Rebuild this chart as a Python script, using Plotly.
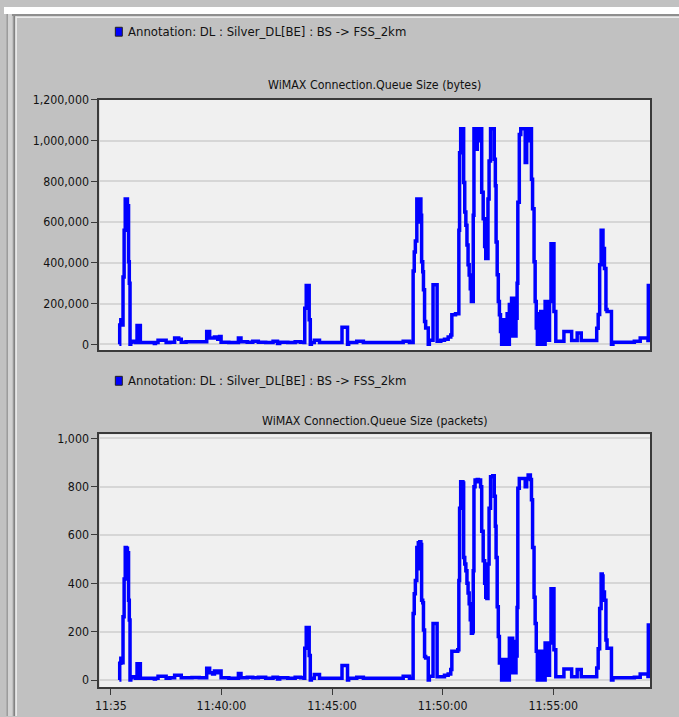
import plotly.graph_objects as go

W, H = 679, 717

# Sample times, seconds after 11:35:00
t_sec = [
    23, 24, 27, 30, 33, 36, 39, 42, 45, 48, 50, 52, 54, 57, 63, 67, 71, 78, 80, 100,
    118, 121, 128, 146, 150, 160, 173, 184, 191, 204, 220, 240, 258, 260, 267, 268, 276, 281, 290, 295,
    299, 320, 339, 346, 353, 370, 385, 400, 420, 440, 452, 458, 480, 500, 515, 524, 526, 530, 536, 538,
    541, 544, 552, 563, 566, 600, 625, 627, 640, 642, 645, 667, 681, 685, 720, 760, 793, 807, 810, 818,
    820, 823, 826, 830, 834, 836, 838, 841, 843, 846, 848, 851, 854, 858, 861, 864, 872, 874, 883, 885,
    895, 905, 915, 922, 925, 935, 941, 944, 946, 949, 955, 957, 960, 963, 966, 969, 972, 975, 978, 981,
    983, 985, 988, 991, 994, 997, 1003, 1006, 1010, 1014, 1017, 1020, 1023, 1026, 1030, 1036, 1040, 1043, 1045, 1048,
    1051, 1054, 1057, 1060, 1063, 1066, 1069, 1072, 1075, 1078, 1081, 1084, 1087, 1090, 1093, 1096, 1099, 1102, 1104, 1108,
    1112, 1120, 1124, 1128, 1132, 1138, 1141, 1144, 1148, 1151, 1154, 1157, 1160, 1163, 1166, 1169, 1172, 1175, 1178, 1181,
    1184, 1187, 1190, 1194, 1198, 1202, 1207, 1211, 1225, 1229, 1247, 1250, 1261, 1265, 1274, 1276, 1314, 1318, 1322, 1326,
    1330, 1333, 1335, 1339, 1343, 1346, 1355, 1358, 1362, 1414, 1420, 1436, 1454, 1457, 1458, 1463,
]

# WiMAX Connection.Queue Size (bytes)
queue_bytes = [
    0, 95000, 120000, 95000, 330000, 560000, 714000, 714000, 680000, 405000, 300000, 0, 10000, 15000, 15000, 8000, 92000, 92000, 8000, 8000,
    3000, 8000, 20000, 20000, 8000, 10000, 30000, 25000, 10000, 12000, 12000, 12000, 12000, 63000, 63000, 30000, 30000, 35000, 25000, 38000,
    10000, 8000, 8000, 30000, 12000, 10000, 14000, 10000, 8000, 14000, 3000, 10000, 8000, 12000, 10000, 8000, 177000, 288000, 288000, 120000,
    0, 8000, 20000, 20000, 8000, 8000, 8000, 83000, 83000, 0, 8000, 14000, 14000, 8000, 8000, 8000, 15000, 15000, 8000, 8000,
    360000, 453000, 507000, 714000, 714000, 600000, 714000, 634000, 405000, 356000, 268000, 112000, 80000, 80000, 0, 20000, 20000, 292000, 292000, 15000,
    20000, 25000, 35000, 45000, 145000, 150000, 150000, 560000, 941000, 1058000, 1058000, 795000, 649000, 585000, 488000, 390000, 340000, 273000, 210000, 210000,
    634000, 1058000, 1058000, 958000, 1000000, 1058000, 1058000, 746000, 616000, 480000, 421000, 421000, 714000, 900000, 1058000, 1058000, 909000, 779000, 502000, 341000,
    210000, 145000, 63000, 0, 120000, 0, 112000, 0, 150000, 0, 195000, 40000, 226000, 50000, 226000, 40000, 128000, 300000, 698000, 1030000,
    1058000, 1058000, 893000, 1000000, 1058000, 1058000, 811000, 665000, 405000, 210000, 80000, 0, 150000, 0, 161000, 0, 161000, 0, 210000, 20000,
    210000, 20000, 210000, 494000, 494000, 161000, 15000, 15000, 15000, 63000, 63000, 18000, 18000, 55000, 55000, 18000, 18000, 78000, 146000, 390000,
    560000, 560000, 470000, 372000, 170000, 161000, 161000, 0, 10000, 10000, 15000, 30000, 30000, 18000, 288000, 288000,
]

# WiMAX Connection.Queue Size (packets)
queue_packets = [
    0, 70, 90, 72, 262, 418, 548, 545, 527, 330, 248, 0, 10, 14, 14, 8, 67, 67, 8, 8,
    4, 8, 16, 16, 8, 10, 20, 20, 10, 10, 11, 10, 10, 49, 49, 30, 25, 37, 30, 37,
    10, 8, 8, 27, 10, 12, 10, 12, 8, 12, 4, 10, 8, 12, 10, 8, 132, 217, 217, 102,
    0, 8, 23, 23, 8, 8, 8, 60, 60, 0, 8, 12, 12, 8, 8, 8, 16, 16, 8, 8,
    275, 357, 412, 548, 568, 460, 572, 561, 330, 320, 207, 98, 91, 91, 0, 16, 16, 234, 234, 14,
    14, 20, 25, 44, 119, 119, 125, 412, 711, 820, 815, 507, 480, 452, 400, 360, 316, 250, 194, 200,
    452, 800, 827, 820, 830, 827, 800, 616, 493, 400, 343, 337, 480, 711, 841, 845, 760, 636, 507, 303,
    180, 71, 85, 0, 80, 0, 85, 0, 85, 0, 173, 30, 173, 40, 160, 30, 100, 300, 793, 834,
    834, 834, 800, 834, 848, 830, 746, 548, 343, 234, 119, 0, 119, 0, 110, 0, 119, 0, 153, 20,
    153, 20, 153, 378, 378, 125, 14, 14, 14, 46, 46, 14, 14, 44, 44, 14, 14, 50, 130, 296,
    439, 430, 364, 330, 166, 132, 132, 0, 10, 10, 12, 25, 25, 15, 228, 228,
]

bytes_ticks = [0, 200000, 400000, 600000, 800000, 1000000, 1200000]
bytes_labels = ["0", "200,000", "400,000", "600,000", "800,000", "1,000,000", "1,200,000"]
packet_ticks = [0, 200, 400, 600, 800, 1000]
packet_labels = ["0", "200", "400", "600", "800", "1,000"]
time_ticks = [0, 300, 600, 900, 1200]
time_labels = ["11:35", "11:40:00", "11:45:00", "11:50:00", "11:55:00"]

series_name = "Annotation: DL : Silver_DL[BE] : BS -> FSS_2km"
titles = ["WiMAX Connection.Queue Size (bytes)", "WiMAX Connection.Queue Size (packets)"]

FONT = "DejaVu Sans Condensed, Liberation Sans, Arial, sans-serif"
FSIZE = 12.3
LEGEND_FSIZE = 13
BG = "#c1c1c1"
PLOT_BG = "#f0f0f0"
GRID = "#d6d6d6"
FRAME = "#3a3a3a"
BLUE = "#0000ff"


def fx(px):
    return px / W


def fy(py):
    return 1 - py / H


# pixel boxes of the two panels
left_px, right_px = 96, 650
panels = [(94, 347), (432, 688)]

fig = go.Figure()
fig.add_trace(go.Scatter(x=t_sec, y=queue_bytes, mode="lines", line=dict(color=BLUE, width=3.5, shape="hv"),
                         xaxis="x", yaxis="y", showlegend=False, hoverinfo="skip"))
fig.add_trace(go.Scatter(x=t_sec, y=queue_packets, mode="lines", line=dict(color=BLUE, width=3.5, shape="hv"),
                         xaxis="x2", yaxis="y2", showlegend=False, hoverinfo="skip"))

x_range = [-31, 1463]
common_x = dict(range=x_range, domain=[fx(left_px), fx(right_px)], showgrid=False, zeroline=False,
                showline=True, mirror=True, linecolor=FRAME, linewidth=2,
                tickfont=dict(family=FONT, size=FSIZE, color="#111"))
common_y = dict(showgrid=True, gridcolor=GRID, gridwidth=2, zeroline=False,
                showline=True, mirror=True, linecolor=FRAME, linewidth=2,
                ticks="outside", ticklen=6, tickwidth=1, tickcolor=FRAME,
                tickfont=dict(family=FONT, size=FSIZE, color="#111"))

fig.update_layout(
    width=W, height=H, margin=dict(l=0, r=0, t=0, b=0),
    paper_bgcolor=BG, plot_bgcolor=PLOT_BG,
    xaxis=dict(common_x, anchor="y", showticklabels=False, ticks=""),
    yaxis=dict(common_y, anchor="x", domain=[fy(panels[0][1]), fy(panels[0][0])],
               range=[-29000, 1200000], tickvals=bytes_ticks, ticktext=bytes_labels),
    xaxis2=dict(common_x, anchor="y2", tickvals=time_ticks, ticktext=time_labels,
                ticks="outside", ticklen=6, tickwidth=1, tickcolor=FRAME),
    yaxis2=dict(common_y, anchor="x2", domain=[fy(panels[1][1]), fy(panels[1][0])],
                range=[-30, 1017], tickvals=packet_ticks, ticktext=packet_labels),
)

shapes = [
    # window chrome: white strip on top and bevel lines
    dict(type="rect", xref="paper", yref="paper", x0=0, x1=1, y0=fy(7), y1=1, fillcolor="#ffffff", line_width=0, layer="below"),
    dict(type="rect", xref="paper", yref="paper", x0=fx(3), x1=1, y0=fy(9), y1=fy(7), fillcolor="#8e8e8e", line_width=0, layer="below"),
    dict(type="rect", xref="paper", yref="paper", x0=fx(12), x1=1, y0=fy(11), y1=fy(9.5), fillcolor="#ececec", line_width=0, layer="below"),
    dict(type="rect", xref="paper", yref="paper", x0=fx(2.5), x1=fx(4), y0=0, y1=fy(7), fillcolor="#9a9a9a", line_width=0, layer="below"),
    dict(type="rect", xref="paper", yref="paper", x0=fx(4), x1=fx(8), y0=0, y1=fy(7), fillcolor="#d2d2d2", line_width=0, layer="below"),
    dict(type="rect", xref="paper", yref="paper", x0=fx(9.5), x1=fx(11), y0=0, y1=fy(9), fillcolor="#7e7e7e", line_width=0, layer="below"),
    dict(type="rect", xref="paper", yref="paper", x0=fx(11.5), x1=fx(13), y0=0, y1=fy(9.5), fillcolor="#ececec", line_width=0, layer="below"),
]

annotations = []
legend_rows = [25, 378]
title_rows = [79, 419]
for i in range(2):
    ly = legend_rows[i]
    shapes.append(dict(type="rect", xref="paper", yref="paper", x0=fx(112), x1=fx(119),
                       y0=fy(ly + 4.5), y1=fy(ly - 4.5), fillcolor=BLUE, line=dict(color="#202020", width=1)))
    annotations.append(dict(xref="paper", yref="paper", x=fx(123), y=fy(ly), xanchor="left", yanchor="middle",
                            text=series_name, showarrow=False, font=dict(family=FONT, size=LEGEND_FSIZE, color="#111")))
    annotations.append(dict(xref="paper", yref="paper", x=fx((left_px + right_px) / 2), y=fy(title_rows[i]),
                            xanchor="center", yanchor="middle", text=titles[i], showarrow=False,
                            font=dict(family=FONT, size=FSIZE, color="#111")))

fig.update_layout(shapes=shapes, annotations=annotations)
fig.write_html("out.html")
